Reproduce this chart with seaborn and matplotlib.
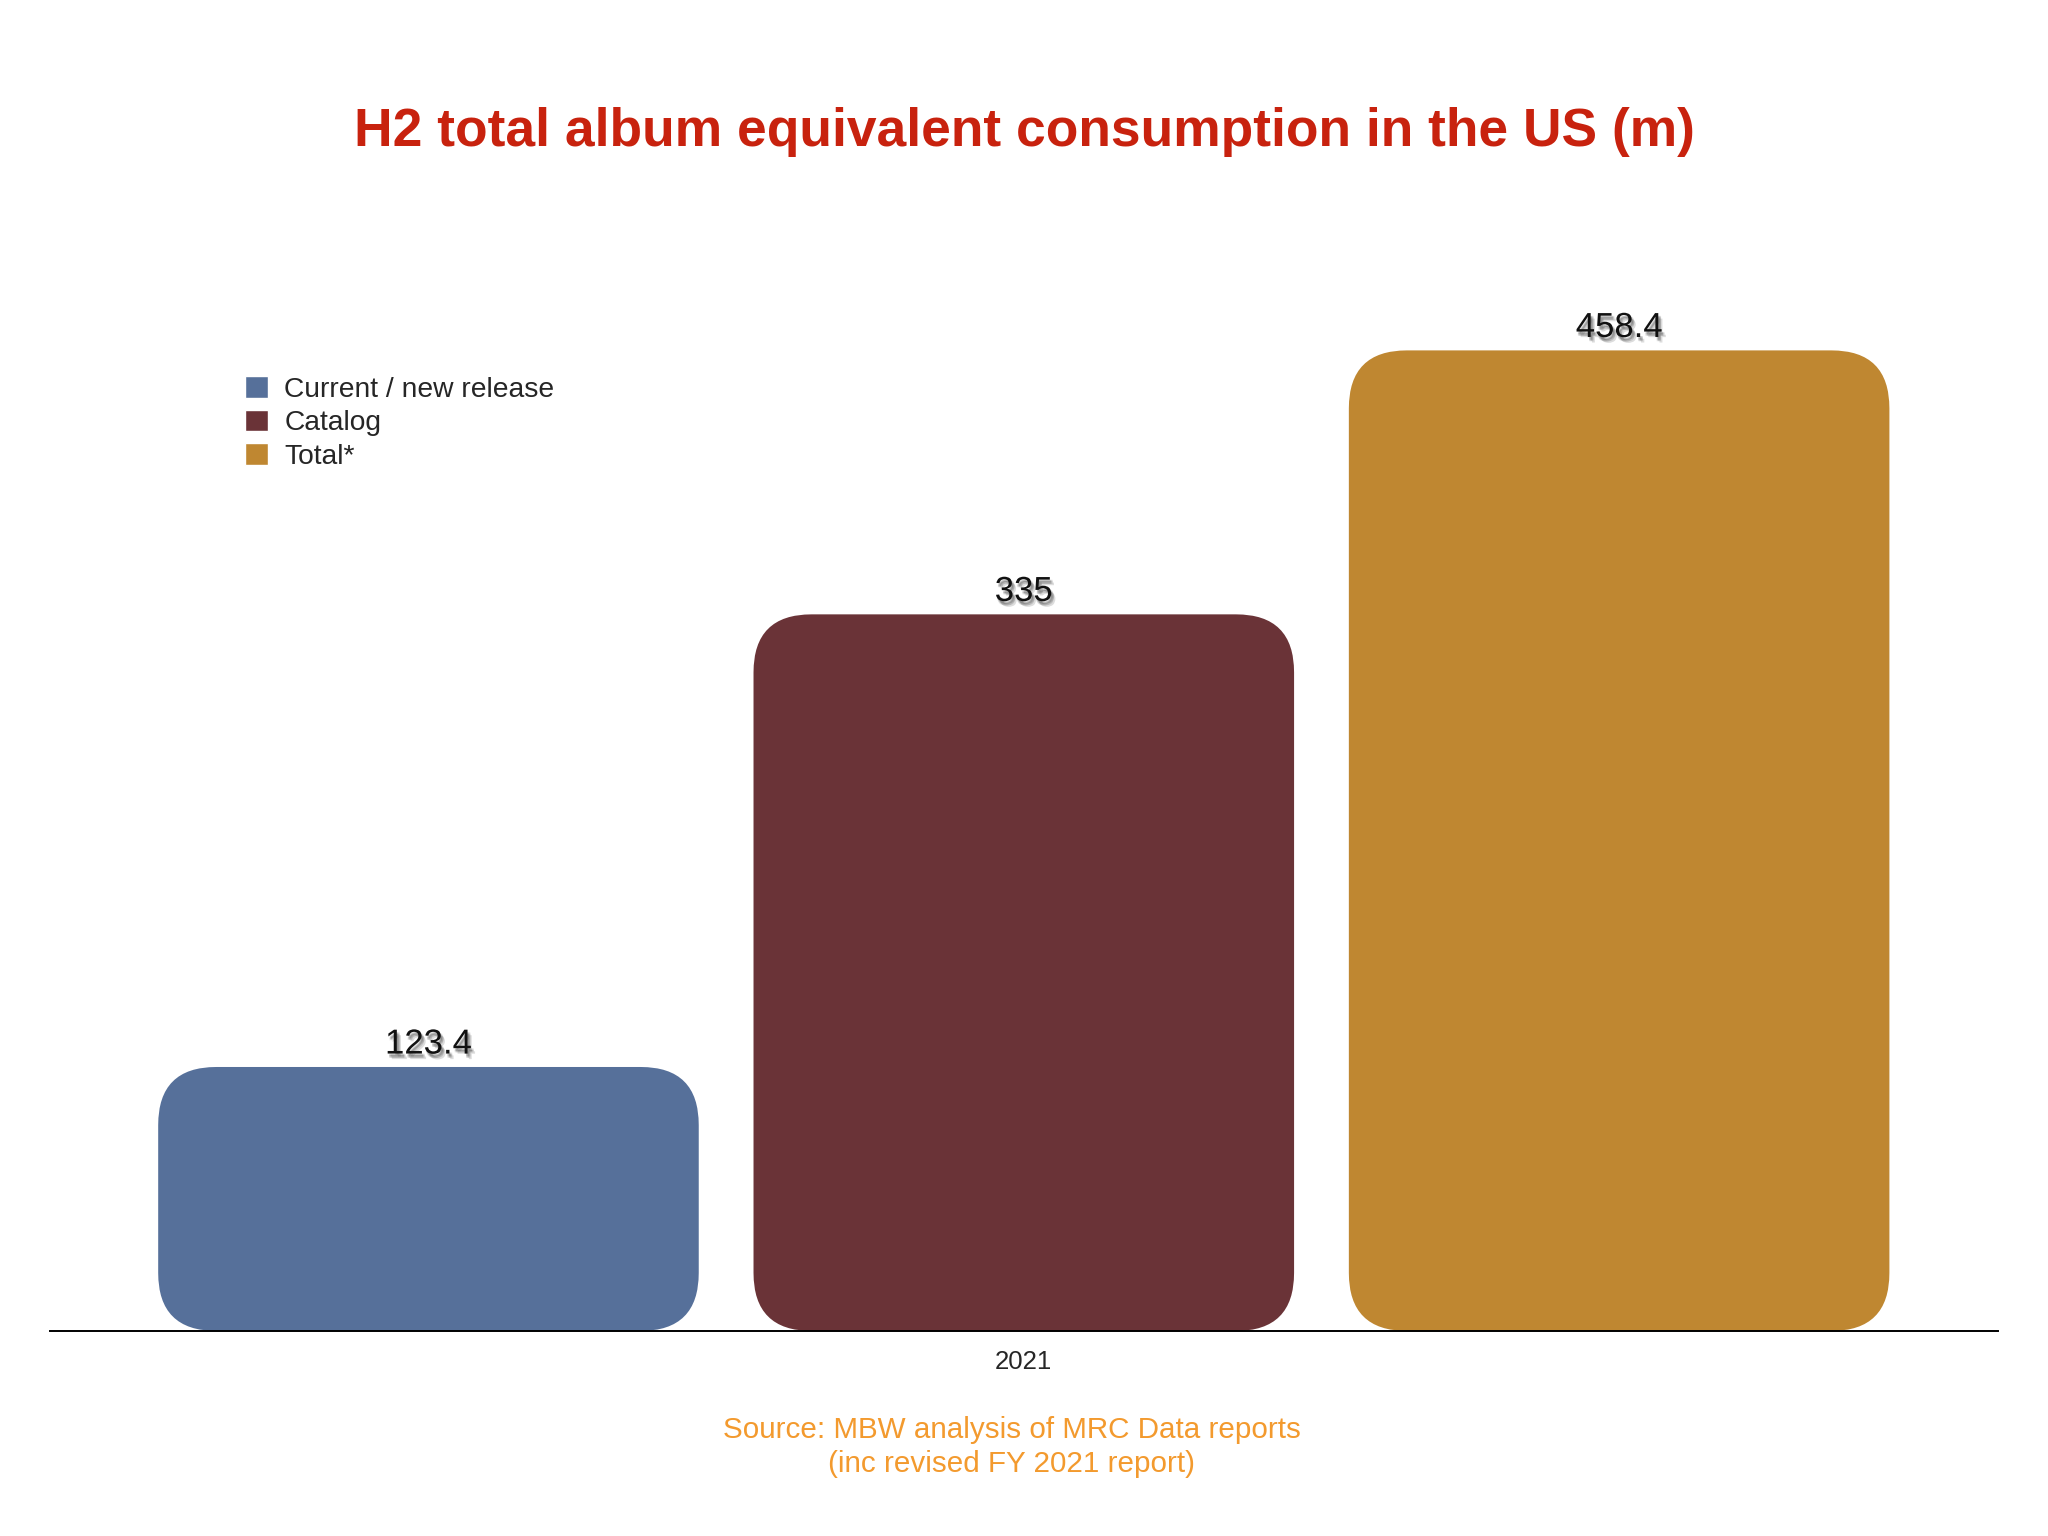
import matplotlib
matplotlib.use('Agg')
import matplotlib.pyplot as plt
import matplotlib.patheffects as pe
from matplotlib.patches import FancyBboxPatch
import pandas as pd
import seaborn as sns

# data
years = ['2021', '2021', '2021']
series = ['Current / new release', 'Catalog', 'Total*']
values = [123.4, 335, 458.4]
value_labels = ['123.4', '335', '458.4']
colors = ['#56709a', '#6a3337', '#bf8731']

df = pd.DataFrame({'year': years, 'series': series, 'value': values})

sns.set_style('white')
plt.rcParams['font.family'] = ['Liberation Sans', 'DejaVu Sans']

fig = plt.figure(figsize=(20.48, 15.36), dpi=100)
ax = fig.add_axes([0.0244, 0.1335, 0.951, 0.736])

sns.barplot(data=df, x='year', y='value', hue='series', palette=colors,
            width=0.917, gap=0.092, saturation=1, ax=ax, errorbar=None)

ax.set_xlim(-0.5, 0.5)
ax.set_ylim(0, 528.5)
fig.canvas.draw()

# soft shadow under the value labels
shadow = [pe.SimplePatchShadow(offset=(dx, dy), shadow_rgbFace='#444444', alpha=0.18)
          for dx, dy in [(1, -2), (2, -3), (3, -4), (2, -2), (1, -3)]]
shadow.append(pe.Normal())

# swap the plain rectangles for rounded ones
bbox = ax.get_window_extent()
x_per_px = 1.0 / bbox.width
y_per_px = 528.5 / bbox.height
aspect = y_per_px / x_per_px
radius = 58 * x_per_px
bars = [p for p in ax.patches]
for p in bars:
    x, y = p.get_x(), p.get_y()
    w, h = p.get_width(), p.get_height()
    if h <= 0:
        continue
    fc = p.get_facecolor()
    p.remove()
    r = min(radius, h / aspect / 2)
    ax.add_patch(FancyBboxPatch((x, y), w, h,
                                boxstyle=f'round,pad=0,rounding_size={r}',
                                mutation_aspect=aspect, facecolor=fc,
                                edgecolor='none'))
    lab = value_labels[values.index(h)] if h in values else f'{h:g}'
    ax.text(x + w / 2, y + h + 3, lab, ha='center', va='bottom',
            fontsize=25, color='#111111', path_effects=shadow)

sns.despine(ax=ax, left=True)
ax.spines['bottom'].set_color('black')
ax.spines['bottom'].set_linewidth(1.4)
ax.set_yticks([])
ax.set_xlabel('')
ax.set_ylabel('')
ax.tick_params(axis='x', length=0, pad=14, labelsize=18.5)

sns.move_legend(ax, 'upper left', bbox_to_anchor=(245 / 2048, 1 - 376 / 1536),
                bbox_transform=fig.transFigure, frameon=False, title=None,
                fontsize=20.3, handlelength=0.8, handleheight=0.8,
                handletextpad=0.6, labelspacing=0.25, borderpad=0,
                borderaxespad=0)

fig.text(0.5, 1 - 101 / 1176, 'H2 total album equivalent consumption in the US (m)',
         ha='center', va='center', fontsize=38.4, fontweight='bold',
         color='#c8220e')
fig.text(0.494, 1 - 1095 / 1176, 'Source: MBW analysis of MRC Data reports',
         ha='center', va='center', fontsize=21.3, color='#f39a2e')
fig.text(0.494, 1 - 1121 / 1176, '(inc revised FY 2021 report)',
         ha='center', va='center', fontsize=21.3, color='#f39a2e')

plt.savefig('out.png', dpi=100, facecolor='white')
